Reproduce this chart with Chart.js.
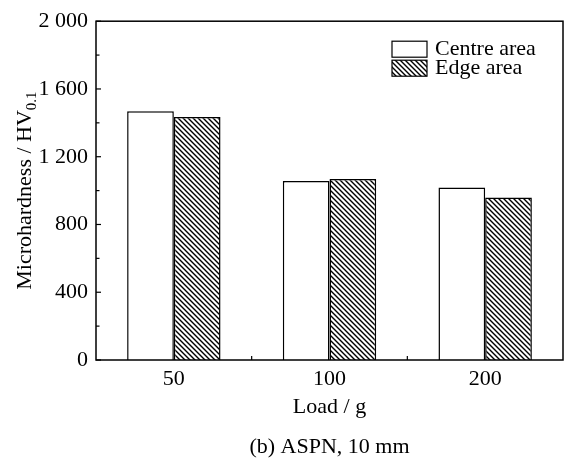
<!DOCTYPE html>
<html>
<head>
<meta charset="utf-8">
<script src="https://cdn.jsdelivr.net/npm/chart.js@4/dist/chart.umd.min.js"></script>
<style>
  html, body { margin: 0; padding: 0; background: #fff; }
  #wrap { width: 573px; height: 461px; }
</style>
</head>
<body>
<div id="wrap"><canvas id="chart"></canvas></div>
<script>
const loads = ['50', '100', '200'];
const centreArea = [1468, 1057, 1018];
const edgeArea = [1434, 1068, 960];
const yTicks = [0, 400, 800, 1200, 1600, 2000];

const FONT = 'Liberation Serif';

function fmt(v) {
  if (v < 1000) return String(v);
  return Math.floor(v / 1000) + ' ' + String(v % 1000).padStart(3, '0');
}

function hatchPattern(ctx) {
  const s = 5;
  const c = document.createElement('canvas');
  c.width = s;
  c.height = s;
  const g = c.getContext('2d');
  g.fillStyle = '#fff';
  g.fillRect(0, 0, s, s);
  g.strokeStyle = '#000';
  g.lineWidth = 1.4;
  g.beginPath();
  g.moveTo(-1, -1); g.lineTo(s + 1, s + 1);
  g.moveTo(-1, s - 1); g.lineTo(1, s + 1);
  g.moveTo(s - 1, -1); g.lineTo(s + 1, 1);
  g.stroke();
  return ctx.createPattern(c, 'repeat');
}

// frame, inward ticks, legend and y title with subscript
const decorations = {
  id: 'decorations',
  afterDraw(chart) {
    const { ctx, chartArea: a, scales } = chart;
    ctx.save();
    ctx.strokeStyle = '#000';
    ctx.lineWidth = 1.5;
    ctx.strokeRect(a.left, a.top, a.right - a.left, a.bottom - a.top);

    // y ticks (major every 400, minor every 200)
    ctx.lineWidth = 1.2;
    for (let v = 0; v <= 2000; v += 200) {
      const y = scales.y.getPixelForValue(v);
      const len = v % 400 === 0 ? 5 : 3.5;
      ctx.beginPath();
      ctx.moveTo(a.left, y);
      ctx.lineTo(a.left + len, y);
      ctx.stroke();
    }
    // x ticks at category boundaries
    for (let i = 0; i < loads.length - 1; i++) {
      const x = (scales.x.getPixelForValue(i) + scales.x.getPixelForValue(i + 1)) / 2;
      ctx.beginPath();
      ctx.moveTo(x, a.bottom);
      ctx.lineTo(x, a.bottom - 4);
      ctx.stroke();
    }

    // legend
    ctx.font = '22px ' + FONT;
    ctx.textBaseline = 'middle';
    ctx.textAlign = 'left';
    ctx.fillStyle = '#000';
    chart.data.datasets.forEach((ds, i) => {
      const bx = a.right - 171;
      const by = a.top + 20 + i * 19;
      ctx.fillStyle = ds.backgroundColor;
      ctx.fillRect(bx, by, 35, 16);
      ctx.lineWidth = 1.2;
      ctx.strokeRect(bx, by, 35, 16);
      ctx.fillStyle = '#000';
      ctx.fillText(ds.label, bx + 43, by + 8);
    });

    // y axis title
    const main = 'Microhardness / HV';
    const sub = '0.1';
    ctx.font = '22px ' + FONT;
    const wMain = ctx.measureText(main).width;
    ctx.font = '15px ' + FONT;
    const wSub = ctx.measureText(sub).width;
    const total = wMain + wSub;
    ctx.translate(23, (a.top + a.bottom) / 2);
    ctx.rotate(-Math.PI / 2);
    ctx.textAlign = 'left';
    ctx.textBaseline = 'alphabetic';
    ctx.font = '22px ' + FONT;
    ctx.fillText(main, -total / 2, 8);
    ctx.font = '15px ' + FONT;
    ctx.fillText(sub, -total / 2 + wMain, 13);
    ctx.restore();
  }
};

const canvas = document.getElementById('chart');
const ctx = canvas.getContext('2d');

new Chart(canvas, {
  type: 'bar',
  data: {
    labels: loads,
    datasets: [
      {
        label: 'Centre area',
        data: centreArea,
        backgroundColor: '#fff',
        borderColor: '#000',
        borderWidth: 1.5,
      },
      {
        label: 'Edge area',
        data: edgeArea,
        backgroundColor: hatchPattern(ctx),
        borderColor: '#000',
        borderWidth: 1.5,
      },
    ],
  },
  options: {
    responsive: true,
    maintainAspectRatio: false,
    animation: false,
    events: [],
    layout: { padding: { left: 0, right: 10, top: 15, bottom: 0 } },
    datasets: {
      bar: { categoryPercentage: 0.6, barPercentage: 1.0 },
    },
    plugins: {
      legend: { display: false },
      tooltip: { enabled: false },
    },
    scales: {
      x: {
        grid: { display: false, drawTicks: false },
        border: { display: false },
        ticks: { color: '#000', padding: 6, font: { family: FONT, size: 22 } },
        title: {
          display: true,
          text: ['Load / g', '(b) ASPN, 10 mm'],
          color: '#000',
          font: { family: FONT, size: 22, lineHeight: 40 / 22 },
          padding: { top: 0, bottom: -6 },
        },
        afterFit(scale) { scale.height = 101; },
      },
      y: {
        min: 0,
        max: 2000,
        grid: { display: false, drawTicks: false },
        border: { display: false },
        ticks: {
          color: '#000',
          padding: 8,
          font: { family: FONT, size: 22 },
          callback: v => fmt(v),
        },
        afterBuildTicks(scale) { scale.ticks = yTicks.map(v => ({ value: v })); },
        afterFit(scale) { scale.width = 96; },
      },
    },
  },
  plugins: [decorations],
});
</script>
</body>
</html>
